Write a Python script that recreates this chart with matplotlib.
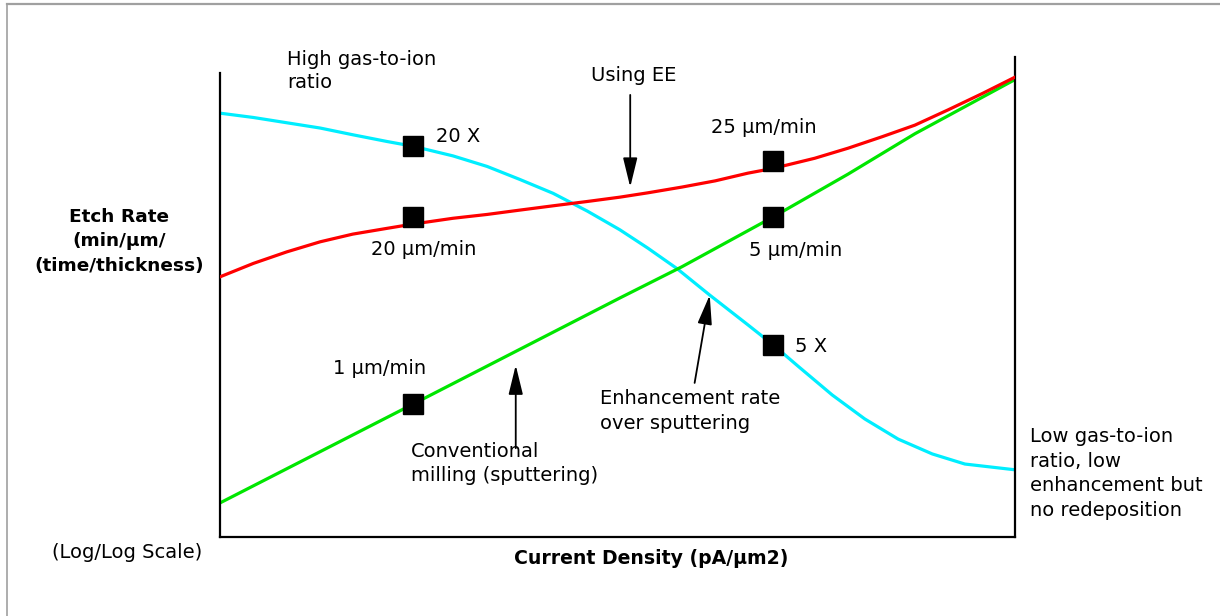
import matplotlib
matplotlib.use("Agg")
import matplotlib.pyplot as plt
from matplotlib.lines import Line2D

# log/log units, both axes 0..10
cyan_x = [0, 0.42, 0.84, 1.26, 1.67, 2.10, 2.43, 2.93, 3.36, 3.77, 4.19, 4.62, 5.03,
          5.38, 5.75, 6.16, 6.64, 6.96, 7.27, 7.70, 8.11, 8.53, 8.96, 9.37, 10]
cyan_y = [8.83, 8.74, 8.63, 8.52, 8.38, 8.24, 8.14, 7.94, 7.72, 7.45, 7.16, 6.79, 6.40,
          6.02, 5.59, 5.04, 4.42, 4.0, 3.56, 2.96, 2.46, 2.04, 1.73, 1.52, 1.40]

red_x = [0, 0.42, 0.84, 1.26, 1.67, 2.10, 2.43, 2.93, 3.36, 3.77, 4.19, 4.62, 5.03,
         5.38, 5.81, 6.23, 6.64, 6.96, 7.48, 7.90, 8.33, 8.74, 9.16, 9.59, 10]
red_y = [5.42, 5.70, 5.94, 6.15, 6.31, 6.43, 6.52, 6.64, 6.72, 6.81, 6.90, 6.99, 7.08,
         7.17, 7.29, 7.42, 7.58, 7.68, 7.89, 8.10, 8.34, 8.58, 8.90, 9.24, 9.58]

green_x = [0, 2.43, 5.03, 5.81, 6.96, 7.90, 8.74, 10]
green_y = [0.71, 2.77, 4.98, 5.63, 6.67, 7.56, 8.40, 9.53]

marker_x = [2.43, 2.43, 2.43, 6.96, 6.96, 6.96]
marker_y = [8.15, 6.67, 2.77, 7.83, 6.67, 4.0]

W, H = 1220, 616
fig = plt.figure(figsize=(W / 100, H / 100), dpi=100)
ax = fig.add_axes([220 / W, 1 - 537 / H, 795 / W, 480 / H])
ax.set_xlim(0, 10)
ax.set_ylim(0, 10)

ax.plot(cyan_x, cyan_y, color='#00eeff', lw=2.3, solid_joinstyle='round', zorder=2)
ax.plot(green_x, green_y, color='#00e600', lw=2.3, solid_joinstyle='round', zorder=2)
ax.plot(red_x, red_y, color='#ff0000', lw=2.3, solid_joinstyle='round', zorder=3)
ax.plot(marker_x, marker_y, 's', color='black', ms=14, ls='none', zorder=4)

ax.set_xticks([])
ax.set_yticks([])
ax.spines['top'].set_visible(False)
for s in ['left', 'right', 'bottom']:
    ax.spines[s].set_linewidth(1.6)
ax.spines['left'].set_bounds(0, 9.67)

fs = 14
ax.text(0.84, 10.15, 'High gas-to-ion\nratio', fontsize=fs, va='top', ha='left', linespacing=1.3)
ax.text(5.2, 9.62, 'Using EE', fontsize=fs, va='center', ha='center')
ax.text(2.72, 8.35, '20 X', fontsize=fs, va='center')
ax.text(6.18, 8.54, '25 µm/min', fontsize=fs, va='center')
ax.text(1.9, 5.98, '20 µm/min', fontsize=fs, va='center')
ax.text(6.65, 5.96, '5 µm/min', fontsize=fs, va='center')
ax.text(1.42, 3.52, '1 µm/min', fontsize=fs, va='center')
ax.text(7.23, 3.96, '5 X', fontsize=fs, va='center')
ax.text(2.4, 1.98, 'Conventional\nmilling (sputtering)', fontsize=fs, va='top', linespacing=1.36)
ax.text(4.78, 3.08, 'Enhancement rate\nover sputtering', fontsize=fs, va='top', linespacing=1.36)

arrow = dict(arrowstyle='-|>,head_length=0.9,head_width=0.22', color='black', lw=1.3,
             mutation_scale=20, shrinkA=0, shrinkB=0)
ax.annotate('', xy=(5.16, 7.29), xytext=(5.16, 9.21), arrowprops=arrow)
ax.annotate('', xy=(3.72, 3.58), xytext=(3.72, 1.85), arrowprops=arrow)
ax.annotate('', xy=(6.16, 5.04), xytext=(5.97, 3.21), arrowprops=arrow)

fig.text(119 / W, 1 - 241.5 / H, 'Etch Rate\n(min/µm/\n(time/thickness)', fontsize=13.3,
         fontweight='bold', ha='center', va='center', linespacing=1.45)
fig.text(52 / W, 1 - 553 / H, '(Log/Log Scale)', fontsize=fs, va='center')
fig.text(651 / W, 1 - 558 / H, 'Current Density (pA/µm2)', fontsize=13.6, fontweight='bold',
         ha='center', va='center')
fig.text(1030 / W, 1 - 427 / H, 'Low gas-to-ion\nratio, low\nenhancement but\nno redeposition',
         fontsize=fs, va='top', linespacing=1.37)

# screenshot frame, top and left edges only
fig.add_artist(Line2D([6.5 / W, 1], [1 - 3.5 / H, 1 - 3.5 / H], color='#a0a0a0', lw=1.6))
fig.add_artist(Line2D([6.5 / W, 6.5 / W], [0, 1 - 3.5 / H], color='#a0a0a0', lw=1.2))

fig.savefig('out.png', dpi=100)
